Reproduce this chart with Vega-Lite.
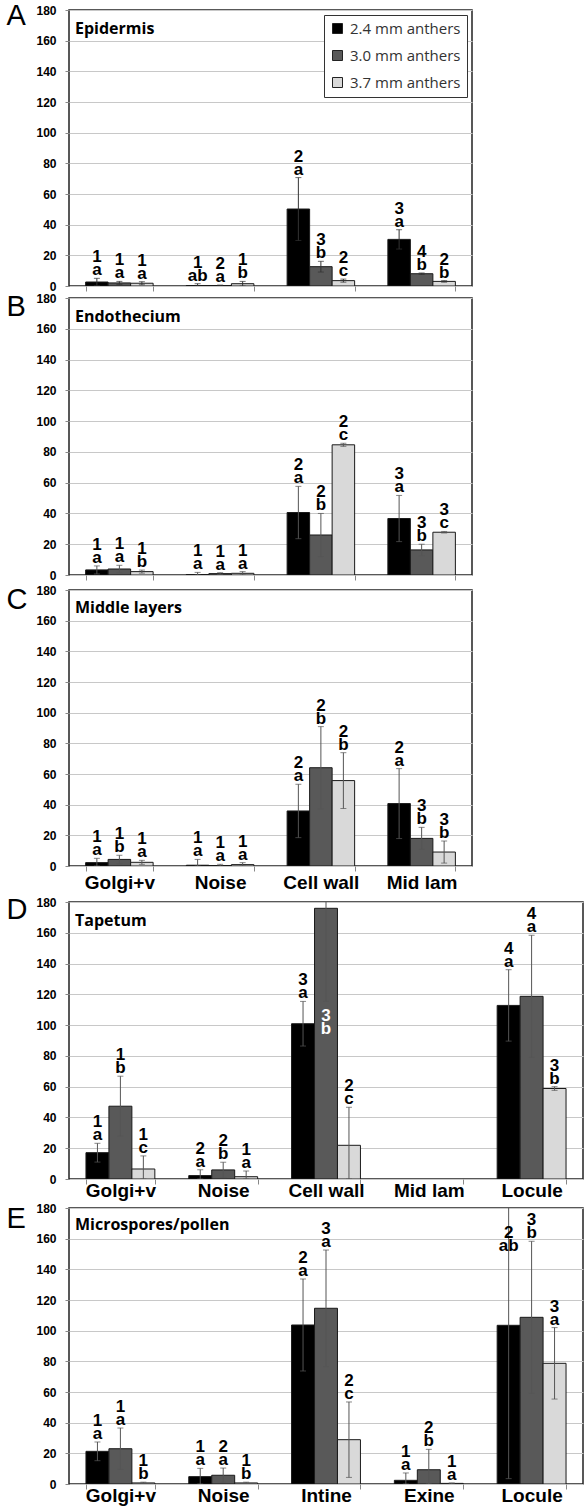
{
"$schema": "https://vega.github.io/schema/vega-lite/v6.json",
"padding": {"left": 5, "top": 0, "right": 3, "bottom": 3},
"config": {"view": {"stroke": "#222", "strokeWidth": 1.5}, "font": "Liberation Sans", "axis": {"labelOverlap": false}, "axisQuantitative": {"labelOverlap": false, "labelFlush": false}},
"data": {"values": [
{"p":"A","c":"Golgi+v","s":"2.4 mm anthers","m":2.6,"e":2.4,"n":"1","l":"a"},
{"p":"A","c":"Golgi+v","s":"3.0 mm anthers","m":2.0,"e":1.0,"n":"1","l":"a"},
{"p":"A","c":"Golgi+v","s":"3.7 mm anthers","m":1.8,"e":1.0,"n":"1","l":"a"},
{"p":"A","c":"Noise","s":"2.4 mm anthers","m":0.3,"e":1.2,"n":"1","l":"ab"},
{"p":"A","c":"Noise","s":"3.0 mm anthers","m":0.3,"e":0.3,"n":"2","l":"a"},
{"p":"A","c":"Noise","s":"3.7 mm anthers","m":1.5,"e":1.5,"n":"1","l":"b"},
{"p":"A","c":"Cell wall","s":"2.4 mm anthers","m":50.2,"e":20.5,"n":"2","l":"a"},
{"p":"A","c":"Cell wall","s":"3.0 mm anthers","m":12.6,"e":3.5,"n":"3","l":"b"},
{"p":"A","c":"Cell wall","s":"3.7 mm anthers","m":3.5,"e":1.0,"n":"2","l":"c"},
{"p":"A","c":"Mid lam","s":"2.4 mm anthers","m":30.4,"e":6.3,"n":"3","l":"a"},
{"p":"A","c":"Mid lam","s":"3.0 mm anthers","m":8.0,"e":0.5,"n":"4","l":"b"},
{"p":"A","c":"Mid lam","s":"3.7 mm anthers","m":3.0,"e":0.5,"n":"2","l":"b"},
{"p":"B","c":"Golgi+v","s":"2.4 mm anthers","m":3.3,"e":2.6,"n":"1","l":"a"},
{"p":"B","c":"Golgi+v","s":"3.0 mm anthers","m":3.9,"e":2.4,"n":"1","l":"a"},
{"p":"B","c":"Golgi+v","s":"3.7 mm anthers","m":2.2,"e":1.0,"n":"1","l":"b"},
{"p":"B","c":"Noise","s":"2.4 mm anthers","m":0.3,"e":1.4,"n":"1","l":"a"},
{"p":"B","c":"Noise","s":"3.0 mm anthers","m":0.9,"e":0.6,"n":"1","l":"a"},
{"p":"B","c":"Noise","s":"3.7 mm anthers","m":1.1,"e":1.1,"n":"1","l":"a"},
{"p":"B","c":"Cell wall","s":"2.4 mm anthers","m":40.6,"e":17.0,"n":"2","l":"a"},
{"p":"B","c":"Cell wall","s":"3.0 mm anthers","m":26.0,"e":14.0,"n":"2","l":"b"},
{"p":"B","c":"Cell wall","s":"3.7 mm anthers","m":84.6,"e":1.0,"n":"2","l":"c"},
{"p":"B","c":"Mid lam","s":"2.4 mm anthers","m":36.7,"e":15.0,"n":"3","l":"a"},
{"p":"B","c":"Mid lam","s":"3.0 mm anthers","m":16.3,"e":3.7,"n":"3","l":"b"},
{"p":"B","c":"Mid lam","s":"3.7 mm anthers","m":27.8,"e":0.5,"n":"3","l":"c"},
{"p":"C","c":"Golgi+v","s":"2.4 mm anthers","m":2.2,"e":2.8,"n":"1","l":"a"},
{"p":"C","c":"Golgi+v","s":"3.0 mm anthers","m":4.3,"e":2.7,"n":"1","l":"b"},
{"p":"C","c":"Golgi+v","s":"3.7 mm anthers","m":2.4,"e":1.3,"n":"1","l":"a"},
{"p":"C","c":"Noise","s":"2.4 mm anthers","m":0.5,"e":3.8,"n":"1","l":"a"},
{"p":"C","c":"Noise","s":"3.0 mm anthers","m":0.3,"e":0.8,"n":"1","l":"a"},
{"p":"C","c":"Noise","s":"3.7 mm anthers","m":0.9,"e":1.3,"n":"1","l":"a"},
{"p":"C","c":"Cell wall","s":"2.4 mm anthers","m":35.9,"e":17.4,"n":"2","l":"a"},
{"p":"C","c":"Cell wall","s":"3.0 mm anthers","m":64.1,"e":26.8,"n":"2","l":"b"},
{"p":"C","c":"Cell wall","s":"3.7 mm anthers","m":55.7,"e":18.2,"n":"2","l":"b"},
{"p":"C","c":"Mid lam","s":"2.4 mm anthers","m":40.7,"e":22.8,"n":"2","l":"a"},
{"p":"C","c":"Mid lam","s":"3.0 mm anthers","m":18.0,"e":7.2,"n":"3","l":"b"},
{"p":"C","c":"Mid lam","s":"3.7 mm anthers","m":9.1,"e":7.2,"n":"3","l":"b"},
{"p":"D","c":"Golgi+v","s":"2.4 mm anthers","m":17.1,"e":6.1,"n":"1","l":"a"},
{"p":"D","c":"Golgi+v","s":"3.0 mm anthers","m":47.3,"e":19.5,"n":"1","l":"b"},
{"p":"D","c":"Golgi+v","s":"3.7 mm anthers","m":6.5,"e":8.5,"n":"1","l":"c"},
{"p":"D","c":"Noise","s":"2.4 mm anthers","m":2.2,"e":3.8,"n":"2","l":"a"},
{"p":"D","c":"Noise","s":"3.0 mm anthers","m":5.9,"e":5.0,"n":"2","l":"b"},
{"p":"D","c":"Noise","s":"3.7 mm anthers","m":1.5,"e":3.7,"n":"1","l":"a"},
{"p":"D","c":"Cell wall","s":"2.4 mm anthers","m":100.9,"e":14.5,"n":"3","l":"a"},
{"p":"D","c":"Cell wall","s":"3.0 mm anthers","m":175.9,"e":60.5,"n":"3","l":"b"},
{"p":"D","c":"Cell wall","s":"3.7 mm anthers","m":21.9,"e":24.7,"n":"2","l":"c"},
{"p":"D","c":"Locule","s":"2.4 mm anthers","m":112.8,"e":23.2,"n":"4","l":"a"},
{"p":"D","c":"Locule","s":"3.0 mm anthers","m":118.7,"e":39.7,"n":"4","l":"a"},
{"p":"D","c":"Locule","s":"3.7 mm anthers","m":58.8,"e":1.2,"n":"3","l":"b"},
{"p":"E","c":"Golgi+v","s":"2.4 mm anthers","m":21.3,"e":6.1,"n":"1","l":"a"},
{"p":"E","c":"Golgi+v","s":"3.0 mm anthers","m":23.0,"e":13.5,"n":"1","l":"a"},
{"p":"E","c":"Golgi+v","s":"3.7 mm anthers","m":0.7,"e":0.5,"n":"1","l":"b"},
{"p":"E","c":"Noise","s":"2.4 mm anthers","m":4.8,"e":5.4,"n":"1","l":"a"},
{"p":"E","c":"Noise","s":"3.0 mm anthers","m":5.7,"e":4.7,"n":"2","l":"a"},
{"p":"E","c":"Noise","s":"3.7 mm anthers","m":0.7,"e":0.5,"n":"1","l":"b"},
{"p":"E","c":"Intine","s":"2.4 mm anthers","m":103.7,"e":30.0,"n":"2","l":"a"},
{"p":"E","c":"Intine","s":"3.0 mm anthers","m":114.6,"e":38.0,"n":"3","l":"a"},
{"p":"E","c":"Intine","s":"3.7 mm anthers","m":28.9,"e":24.6,"n":"2","l":"c"},
{"p":"E","c":"Exine","s":"2.4 mm anthers","m":2.4,"e":4.8,"n":"1","l":"a"},
{"p":"E","c":"Exine","s":"3.0 mm anthers","m":9.3,"e":13.3,"n":"2","l":"b"},
{"p":"E","c":"Exine","s":"3.7 mm anthers","m":0.4,"e":0.3,"n":"1","l":"a"},
{"p":"E","c":"Locule","s":"2.4 mm anthers","m":103.5,"e":100.0,"n":"2","l":"ab"},
{"p":"E","c":"Locule","s":"3.0 mm anthers","m":108.7,"e":49.6,"n":"3","l":"b"},
{"p":"E","c":"Locule","s":"3.7 mm anthers","m":78.7,"e":23.3,"n":"3","l":"a"}
]},
"transform": [
 {"calculate": "max(datum.m - datum.e, 0)", "as": "lo"},
 {"calculate": "datum.m + datum.e", "as": "hi"},
 {"calculate": "datum.hi > 180 ? (datum.m > 150 ? 92 : 150) : datum.hi", "as": "ly"},
 {"calculate": "datum.hi > 180 && datum.m > 150", "as": "w"}
],
"bounds": "flush",
"spacing": 0,
"resolve": {"scale": {"x": "independent", "y": "independent", "xOffset": "independent", "color": "independent"}, "legend": {"color": "independent"}},
"vconcat": [
{
"width": 403, "height": 276,
"title": {"text": "Epidermis", "anchor": "start", "frame": "group", "offset": -22, "baseline": "alphabetic", "dx": 6, "dy": 27, "font": "Open Sans", "fontSize": 16, "fontWeight": "bold", "color": "#000"},
"transform": [{"filter": "datum.p === 'A'"}],
"encoding": {
 "x": {"field": "c", "type": "nominal", "sort": null, "scale": {"domain": ["Golgi+v", "Noise", "Cell wall", "Mid lam"], "paddingInner": 0.33, "paddingOuter": 0.165}, "axis": {"title": null, "labels": false, "domain": false, "tickBand": "extent", "tickSize": 5, "tickColor": "#888", "grid": false}},
 "xOffset": {"field": "s", "type": "nominal", "scale": {"domain": ["2.4 mm anthers", "3.0 mm anthers", "3.7 mm anthers"]}},
 "y": {"field": "m", "type": "quantitative", "title": "A", "scale": {"domain": [0, 180]}, "axis": {"titleAngle": 0, "titleX": -63, "titleY": 14, "titleAlign": "left", "titleBaseline": "alphabetic", "titleFont": "Liberation Sans", "titleFontSize": 29, "titleFontWeight": "normal", "titleColor": "#000", "values": [0,20,40,60,80,100,120,140,160,180], "labelOverlap": false, "labelFlush": false, "labelBound": false, "grid": true, "gridColor": "#c8c8c8", "domain": false, "tickSize": 4, "tickColor": "#888", "labelFont": "Liberation Sans", "labelFontSize": 12, "labelFontWeight": "bold", "labelColor": "#000", "labelPadding": 9}}
},
"layer": [
 {"mark": {"type": "bar", "clip": true, "stroke": "#1a1a1a", "strokeWidth": 1},
  "encoding": {"color": {"field": "s", "type": "nominal", "scale": {"domain": ["2.4 mm anthers", "3.0 mm anthers", "3.7 mm anthers"], "range": ["#000000", "#595959", "#d9d9d9"]}, "legend": {"title": null, "orient": "top-right", "offset": 5, "labelFont": "Open Sans", "labelFontSize": 15, "labelColor": "#333", "symbolType": "square", "symbolSize": 100, "symbolStrokeColor": "#222", "symbolStrokeWidth": 1, "rowPadding": 11, "padding": 6, "labelOffset": 5, "strokeColor": "#333", "fillColor": "#fff"}}}},
 {"mark": {"type": "rule", "clip": true, "color": "#333", "strokeWidth": 1},
  "encoding": {"y": {"field": "lo", "type": "quantitative", "title": "A"}, "y2": {"field": "hi"}}},
 {"mark": {"type": "tick", "clip": true, "color": "#333", "size": 6, "thickness": 1},
  "encoding": {"y": {"field": "hi", "type": "quantitative", "title": "A"}}},
 {"mark": {"type": "tick", "clip": true, "color": "#333", "size": 6, "thickness": 1},
  "encoding": {"y": {"field": "lo", "type": "quantitative", "title": "A"}}},
 {"mark": {"type": "text", "baseline": "alphabetic", "dy": -16, "font": "Liberation Sans", "fontSize": 17, "fontWeight": "bold"},
  "encoding": {"y": {"field": "ly", "type": "quantitative", "title": "A"}, "text": {"field": "n"}, "color": {"condition": {"test": "datum.w", "value": "#fff"}, "value": "#000"}}},
 {"mark": {"type": "text", "baseline": "alphabetic", "dy": -3, "font": "Liberation Sans", "fontSize": 17, "fontWeight": "bold"},
  "encoding": {"y": {"field": "ly", "type": "quantitative", "title": "A"}, "text": {"field": "l"}, "color": {"condition": {"test": "datum.w", "value": "#fff"}, "value": "#000"}}}
]
},
{"width": 10, "height": 12, "data": {"values": []}, "mark": "point", "encoding": {}, "view": {"stroke": null}},
{
"width": 403, "height": 277,
"title": {"text": "Endothecium", "anchor": "start", "frame": "group", "offset": -22, "baseline": "alphabetic", "dx": 6, "dy": 24, "font": "Open Sans", "fontSize": 16, "fontWeight": "bold", "color": "#000"},
"transform": [{"filter": "datum.p === 'B'"}],
"encoding": {
 "x": {"field": "c", "type": "nominal", "sort": null, "scale": {"domain": ["Golgi+v", "Noise", "Cell wall", "Mid lam"], "paddingInner": 0.33, "paddingOuter": 0.165}, "axis": {"title": null, "labels": false, "domain": false, "tickBand": "extent", "tickSize": 5, "tickColor": "#888", "grid": false}},
 "xOffset": {"field": "s", "type": "nominal", "scale": {"domain": ["2.4 mm anthers", "3.0 mm anthers", "3.7 mm anthers"]}},
 "y": {"field": "m", "type": "quantitative", "title": "B", "scale": {"domain": [0, 180]}, "axis": {"titleAngle": 0, "titleX": -63, "titleY": 17, "titleAlign": "left", "titleBaseline": "alphabetic", "titleFont": "Liberation Sans", "titleFontSize": 29, "titleFontWeight": "normal", "titleColor": "#000", "values": [0,20,40,60,80,100,120,140,160,180], "labelOverlap": false, "labelFlush": false, "labelBound": false, "grid": true, "gridColor": "#c8c8c8", "domain": false, "tickSize": 4, "tickColor": "#888", "labelFont": "Liberation Sans", "labelFontSize": 12, "labelFontWeight": "bold", "labelColor": "#000", "labelPadding": 9}}
},
"layer": [
 {"mark": {"type": "bar", "clip": true, "stroke": "#1a1a1a", "strokeWidth": 1},
  "encoding": {"color": {"field": "s", "type": "nominal", "scale": {"domain": ["2.4 mm anthers", "3.0 mm anthers", "3.7 mm anthers"], "range": ["#000000", "#595959", "#d9d9d9"]}, "legend": null}}},
 {"mark": {"type": "rule", "clip": true, "color": "#555", "strokeWidth": 1},
  "encoding": {"y": {"field": "lo", "type": "quantitative", "title": "B"}, "y2": {"field": "hi"}}},
 {"mark": {"type": "tick", "clip": true, "color": "#555", "size": 6, "thickness": 1},
  "encoding": {"y": {"field": "hi", "type": "quantitative", "title": "B"}}},
 {"mark": {"type": "tick", "clip": true, "color": "#555", "size": 6, "thickness": 1},
  "encoding": {"y": {"field": "lo", "type": "quantitative", "title": "B"}}},
 {"mark": {"type": "text", "baseline": "alphabetic", "dy": -16, "font": "Liberation Sans", "fontSize": 17, "fontWeight": "bold"},
  "encoding": {"y": {"field": "ly", "type": "quantitative", "title": "B"}, "text": {"field": "n"}, "color": {"condition": {"test": "datum.w", "value": "#fff"}, "value": "#000"}}},
 {"mark": {"type": "text", "baseline": "alphabetic", "dy": -3, "font": "Liberation Sans", "fontSize": 17, "fontWeight": "bold"},
  "encoding": {"y": {"field": "ly", "type": "quantitative", "title": "B"}, "text": {"field": "l"}, "color": {"condition": {"test": "datum.w", "value": "#fff"}, "value": "#000"}}}
]
},
{"width": 10, "height": 15, "data": {"values": []}, "mark": "point", "encoding": {}, "view": {"stroke": null}},
{
"width": 403, "height": 276,
"title": {"text": "Middle layers", "anchor": "start", "frame": "group", "offset": -22, "baseline": "alphabetic", "dx": 6, "dy": 23, "font": "Open Sans", "fontSize": 16, "fontWeight": "bold", "color": "#000"},
"transform": [{"filter": "datum.p === 'C'"}],
"encoding": {
 "x": {"field": "c", "type": "nominal", "sort": null, "scale": {"domain": ["Golgi+v", "Noise", "Cell wall", "Mid lam"], "paddingInner": 0.33, "paddingOuter": 0.165}, "axis": {"title": null, "labels": true, "labelAngle": 0, "labelFont": "Liberation Sans", "labelFontSize": 19, "labelFontWeight": "bold", "labelColor": "#000", "labelPadding": 2, "domain": false, "tickBand": "extent", "tickSize": 5, "tickColor": "#888", "grid": false}},
 "xOffset": {"field": "s", "type": "nominal", "scale": {"domain": ["2.4 mm anthers", "3.0 mm anthers", "3.7 mm anthers"]}},
 "y": {"field": "m", "type": "quantitative", "title": "C", "scale": {"domain": [0, 180]}, "axis": {"titleAngle": 0, "titleX": -63, "titleY": 18, "titleAlign": "left", "titleBaseline": "alphabetic", "titleFont": "Liberation Sans", "titleFontSize": 29, "titleFontWeight": "normal", "titleColor": "#000", "values": [0,20,40,60,80,100,120,140,160,180], "labelOverlap": false, "labelFlush": false, "labelBound": false, "grid": true, "gridColor": "#c8c8c8", "domain": false, "tickSize": 4, "tickColor": "#888", "labelFont": "Liberation Sans", "labelFontSize": 12, "labelFontWeight": "bold", "labelColor": "#000", "labelPadding": 9}}
},
"layer": [
 {"mark": {"type": "bar", "clip": true, "stroke": "#1a1a1a", "strokeWidth": 1},
  "encoding": {"color": {"field": "s", "type": "nominal", "scale": {"domain": ["2.4 mm anthers", "3.0 mm anthers", "3.7 mm anthers"], "range": ["#000000", "#595959", "#d9d9d9"]}, "legend": null}}},
 {"mark": {"type": "rule", "clip": true, "color": "#555", "strokeWidth": 1},
  "encoding": {"y": {"field": "lo", "type": "quantitative", "title": "C"}, "y2": {"field": "hi"}}},
 {"mark": {"type": "tick", "clip": true, "color": "#555", "size": 6, "thickness": 1},
  "encoding": {"y": {"field": "hi", "type": "quantitative", "title": "C"}}},
 {"mark": {"type": "tick", "clip": true, "color": "#555", "size": 6, "thickness": 1},
  "encoding": {"y": {"field": "lo", "type": "quantitative", "title": "C"}}},
 {"mark": {"type": "text", "baseline": "alphabetic", "dy": -16, "font": "Liberation Sans", "fontSize": 17, "fontWeight": "bold"},
  "encoding": {"y": {"field": "ly", "type": "quantitative", "title": "C"}, "text": {"field": "n"}, "color": {"condition": {"test": "datum.w", "value": "#fff"}, "value": "#000"}}},
 {"mark": {"type": "text", "baseline": "alphabetic", "dy": -3, "font": "Liberation Sans", "fontSize": 17, "fontWeight": "bold"},
  "encoding": {"y": {"field": "ly", "type": "quantitative", "title": "C"}, "text": {"field": "l"}, "color": {"condition": {"test": "datum.w", "value": "#fff"}, "value": "#000"}}}
]
},
{"width": 10, "height": 36, "data": {"values": []}, "mark": "point", "encoding": {}, "view": {"stroke": null}},
{
"width": 514, "height": 277,
"title": {"text": "Tapetum", "anchor": "start", "frame": "group", "offset": -22, "baseline": "alphabetic", "dx": 6, "dy": 25, "font": "Open Sans", "fontSize": 16, "fontWeight": "bold", "color": "#000"},
"transform": [{"filter": "datum.p === 'D'"}],
"encoding": {
 "x": {"field": "c", "type": "nominal", "sort": null, "scale": {"domain": ["Golgi+v", "Noise", "Cell wall", "Mid lam", "Locule"], "paddingInner": 0.33, "paddingOuter": 0.165}, "axis": {"title": null, "labels": true, "labelAngle": 0, "labelFont": "Liberation Sans", "labelFontSize": 19, "labelFontWeight": "bold", "labelColor": "#000", "labelPadding": -3, "domain": false, "tickBand": "extent", "tickSize": 5, "tickColor": "#888", "grid": false}},
 "xOffset": {"field": "s", "type": "nominal", "scale": {"domain": ["2.4 mm anthers", "3.0 mm anthers", "3.7 mm anthers"]}},
 "y": {"field": "m", "type": "quantitative", "title": "D", "scale": {"domain": [0, 180]}, "axis": {"titleAngle": 0, "titleX": -63, "titleY": 16, "titleAlign": "left", "titleBaseline": "alphabetic", "titleFont": "Liberation Sans", "titleFontSize": 29, "titleFontWeight": "normal", "titleColor": "#000", "values": [0,20,40,60,80,100,120,140,160,180], "labelOverlap": false, "labelFlush": false, "labelBound": false, "grid": true, "gridColor": "#c8c8c8", "domain": false, "tickSize": 4, "tickColor": "#888", "labelFont": "Liberation Sans", "labelFontSize": 12, "labelFontWeight": "bold", "labelColor": "#000", "labelPadding": 9}}
},
"layer": [
 {"mark": {"type": "bar", "clip": true, "stroke": "#1a1a1a", "strokeWidth": 1},
  "encoding": {"color": {"field": "s", "type": "nominal", "scale": {"domain": ["2.4 mm anthers", "3.0 mm anthers", "3.7 mm anthers"], "range": ["#000000", "#595959", "#d9d9d9"]}, "legend": null}}},
 {"mark": {"type": "rule", "clip": true, "color": "#555", "strokeWidth": 1},
  "encoding": {"y": {"field": "lo", "type": "quantitative", "title": "D"}, "y2": {"field": "hi"}}},
 {"mark": {"type": "tick", "clip": true, "color": "#555", "size": 6, "thickness": 1},
  "encoding": {"y": {"field": "hi", "type": "quantitative", "title": "D"}}},
 {"mark": {"type": "tick", "clip": true, "color": "#555", "size": 6, "thickness": 1},
  "encoding": {"y": {"field": "lo", "type": "quantitative", "title": "D"}}},
 {"mark": {"type": "text", "baseline": "alphabetic", "dy": -16, "font": "Liberation Sans", "fontSize": 17, "fontWeight": "bold"},
  "encoding": {"y": {"field": "ly", "type": "quantitative", "title": "D"}, "text": {"field": "n"}, "color": {"condition": {"test": "datum.w", "value": "#fff"}, "value": "#000"}}},
 {"mark": {"type": "text", "baseline": "alphabetic", "dy": -3, "font": "Liberation Sans", "fontSize": 17, "fontWeight": "bold"},
  "encoding": {"y": {"field": "ly", "type": "quantitative", "title": "D"}, "text": {"field": "l"}, "color": {"condition": {"test": "datum.w", "value": "#fff"}, "value": "#000"}}}
]
},
{"width": 10, "height": 29, "data": {"values": []}, "mark": "point", "encoding": {}, "view": {"stroke": null}},
{
"width": 514, "height": 276,
"title": {"text": "Microspores/pollen", "anchor": "start", "frame": "group", "offset": -22, "baseline": "alphabetic", "dx": 6, "dy": 22, "font": "Open Sans", "fontSize": 16, "fontWeight": "bold", "color": "#000"},
"transform": [{"filter": "datum.p === 'E'"}],
"encoding": {
 "x": {"field": "c", "type": "nominal", "sort": null, "scale": {"domain": ["Golgi+v", "Noise", "Intine", "Exine", "Locule"], "paddingInner": 0.33, "paddingOuter": 0.165}, "axis": {"title": null, "labels": true, "labelAngle": 0, "labelFont": "Liberation Sans", "labelFontSize": 19, "labelFontWeight": "bold", "labelColor": "#000", "labelPadding": -3, "domain": false, "tickBand": "extent", "tickSize": 5, "tickColor": "#888", "grid": false}},
 "xOffset": {"field": "s", "type": "nominal", "scale": {"domain": ["2.4 mm anthers", "3.0 mm anthers", "3.7 mm anthers"]}},
 "y": {"field": "m", "type": "quantitative", "title": "E", "scale": {"domain": [0, 180]}, "axis": {"titleAngle": 0, "titleX": -63, "titleY": 19, "titleAlign": "left", "titleBaseline": "alphabetic", "titleFont": "Liberation Sans", "titleFontSize": 29, "titleFontWeight": "normal", "titleColor": "#000", "values": [0,20,40,60,80,100,120,140,160,180], "labelOverlap": false, "labelFlush": false, "labelBound": false, "grid": true, "gridColor": "#c8c8c8", "domain": false, "tickSize": 4, "tickColor": "#888", "labelFont": "Liberation Sans", "labelFontSize": 12, "labelFontWeight": "bold", "labelColor": "#000", "labelPadding": 9}}
},
"layer": [
 {"mark": {"type": "bar", "clip": true, "stroke": "#1a1a1a", "strokeWidth": 1},
  "encoding": {"color": {"field": "s", "type": "nominal", "scale": {"domain": ["2.4 mm anthers", "3.0 mm anthers", "3.7 mm anthers"], "range": ["#000000", "#595959", "#d9d9d9"]}, "legend": null}}},
 {"mark": {"type": "rule", "clip": true, "color": "#555", "strokeWidth": 1},
  "encoding": {"y": {"field": "lo", "type": "quantitative", "title": "E"}, "y2": {"field": "hi"}}},
 {"mark": {"type": "tick", "clip": true, "color": "#555", "size": 6, "thickness": 1},
  "encoding": {"y": {"field": "hi", "type": "quantitative", "title": "E"}}},
 {"mark": {"type": "tick", "clip": true, "color": "#555", "size": 6, "thickness": 1},
  "encoding": {"y": {"field": "lo", "type": "quantitative", "title": "E"}}},
 {"mark": {"type": "text", "baseline": "alphabetic", "dy": -16, "font": "Liberation Sans", "fontSize": 17, "fontWeight": "bold"},
  "encoding": {"y": {"field": "ly", "type": "quantitative", "title": "E"}, "text": {"field": "n"}, "color": {"condition": {"test": "datum.w", "value": "#fff"}, "value": "#000"}}},
 {"mark": {"type": "text", "baseline": "alphabetic", "dy": -3, "font": "Liberation Sans", "fontSize": 17, "fontWeight": "bold"},
  "encoding": {"y": {"field": "ly", "type": "quantitative", "title": "E"}, "text": {"field": "l"}, "color": {"condition": {"test": "datum.w", "value": "#fff"}, "value": "#000"}}}
]
}
]
}
